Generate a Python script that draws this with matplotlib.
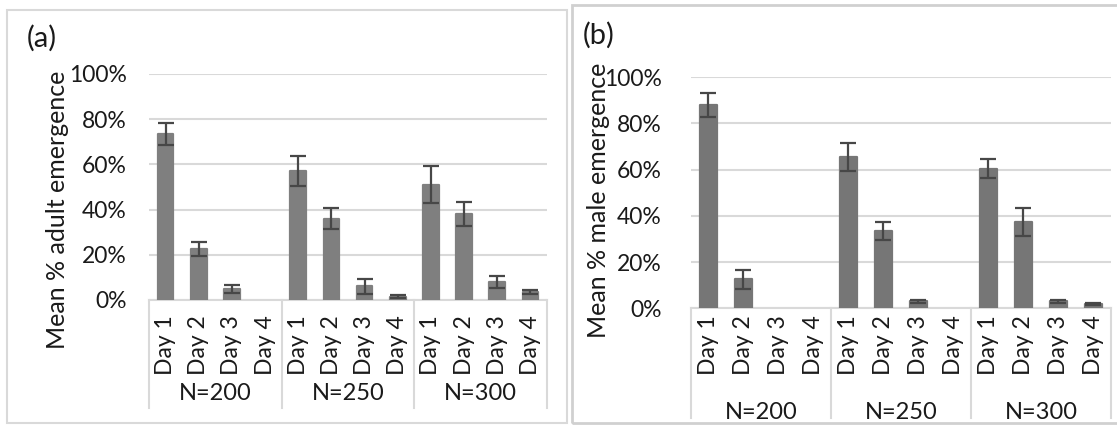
import matplotlib as mpl
mpl.use('Agg')
import matplotlib.pyplot as plt
import matplotlib.transforms as mtransforms
from matplotlib.ticker import PercentFormatter
from matplotlib.patches import Rectangle
from matplotlib import rcParams

rcParams['font.family'] = ['Lato', 'DejaVu Sans']

# emergence data (%), 4 days x 3 densities
groups = ["N=200", "N=250", "N=300"]
days = ["Day 1", "Day 2", "Day 3", "Day 4"]

adult_mean = [73.5, 22.5, 5.0, 0.0, 57.0, 36.0, 6.0, 1.5, 51.0, 38.0, 8.0, 3.5]
adult_err = [4.8, 3.2, 1.8, 0.0, 6.5, 4.7, 3.2, 0.5, 8.3, 5.4, 2.6, 0.9]

male_mean = [88.0, 12.5, 0.0, 0.0, 65.5, 33.5, 3.0, 0.0, 60.5, 37.5, 3.0, 2.0]
male_err = [5.0, 4.0, 0.0, 0.0, 6.0, 4.0, 0.6, 0.0, 4.0, 6.0, 0.6, 0.5]

W, H = 1117, 425
GRID = '#d9d9d9'
TXT = '#1a1a1a'
FS_TICK = 16.5
FS_DAY = 16.5
FS_GRP = 17

fig = plt.figure(figsize=(W / 100, H / 100), dpi=100)


def px_axes(x0, x1, y_top, y_zero):
    # axes placed in pixel coords (y measured from top of figure)
    return fig.add_axes([x0 / W, (H - y_zero) / H, (x1 - x0) / W, (y_zero - y_top) / H])


def panel(ax, means, errs, color, ylabel, ylabel_xy, tick_pad, day_off, grp_y, box_bottom):
    n = len(means)
    xs = list(range(n))
    lw = [0 if m == 0 else 1.6 for m in means]
    ax.bar(xs, means, width=0.47, color=color, edgecolor=color, linewidth=lw,
           joinstyle='round', zorder=3)
    show = [i for i in xs if errs[i] > 0]
    ax.errorbar([xs[i] for i in show], [means[i] for i in show], yerr=[errs[i] for i in show],
                fmt='none', ecolor='#474747', elinewidth=1.6, capsize=5.5, capthick=1.6, zorder=4)

    ax.set_xlim(-0.5, n - 0.5)
    ax.set_ylim(0, 100)
    ax.set_yticks(range(0, 101, 20))
    ax.yaxis.set_major_formatter(PercentFormatter(decimals=0))
    ax.tick_params(axis='y', length=0, pad=tick_pad, labelsize=FS_TICK, labelcolor=TXT)
    ax.set_xticks([])
    ax.grid(axis='y', color=GRID, linewidth=1.5, zorder=0)
    for s in ['top', 'right', 'left']:
        ax.spines[s].set_visible(False)
    ax.spines['bottom'].set_color(GRID)
    ax.spines['bottom'].set_linewidth(1.5)

    # two-level category axis
    tr = mtransforms.blended_transform_factory(ax.transData, ax.transAxes)
    ax_h = ax.get_position().height * H
    for i, d in enumerate(days * len(groups)):
        off = mtransforms.offset_copy(tr, fig=fig, y=-day_off, units='dots')
        ax.text(i, 0, d, rotation=90, ha='center', va='top', fontsize=FS_DAY,
                color=TXT, transform=off, clip_on=False)
    bot = -(box_bottom) / ax_h
    for g in range(len(groups) + 1):
        ax.plot([g * 4 - 0.5] * 2, [0, bot], transform=tr, color=GRID, lw=1.5, clip_on=False)
    for g, name in enumerate(groups):
        off = mtransforms.offset_copy(tr, fig=fig, y=-grp_y, units='dots')
        ax.text(g * 4 + 1.5, 0, name, ha='center', va='center', fontsize=FS_GRP,
                color=TXT, transform=off, clip_on=False)

    fig.text(ylabel_xy[0] / W, 1 - ylabel_xy[1] / H, ylabel, rotation=90,
             ha='center', va='center', fontsize=18, color=TXT)


# panel frames
fig.patches.append(Rectangle((7 / W, (H - 423) / H), 560 / W, 413 / H, transform=fig.transFigure,
                             fill=False, edgecolor=GRID, linewidth=1.5))
fig.patches.append(Rectangle((572 / W, (H - 423) / H), 560 / W, 418 / H, transform=fig.transFigure,
                             fill=False, edgecolor='#d0d0d0', linewidth=2))

ax_a = px_axes(149, 547, 73.75, 300)
panel(ax_a, adult_mean, adult_err, '#7f7f7f', "Mean % adult emergence", (58, 210), 16, 15, 94, 108)
fig.text(27 / W, 1 - 38 / H, "(a)", fontsize=21, ha='left', va='center', color=TXT)

ax_b = px_axes(691, 1111, 77.3, 308.3)
panel(ax_b, male_mean, male_err, '#767676', "Mean % male emergence", (598, 200), 21, 7, 104, 110)
fig.text(583 / W, 1 - 35 / H, "(b)", fontsize=21, ha='left', va='center', color=TXT)

plt.savefig('out.png', dpi=100)
